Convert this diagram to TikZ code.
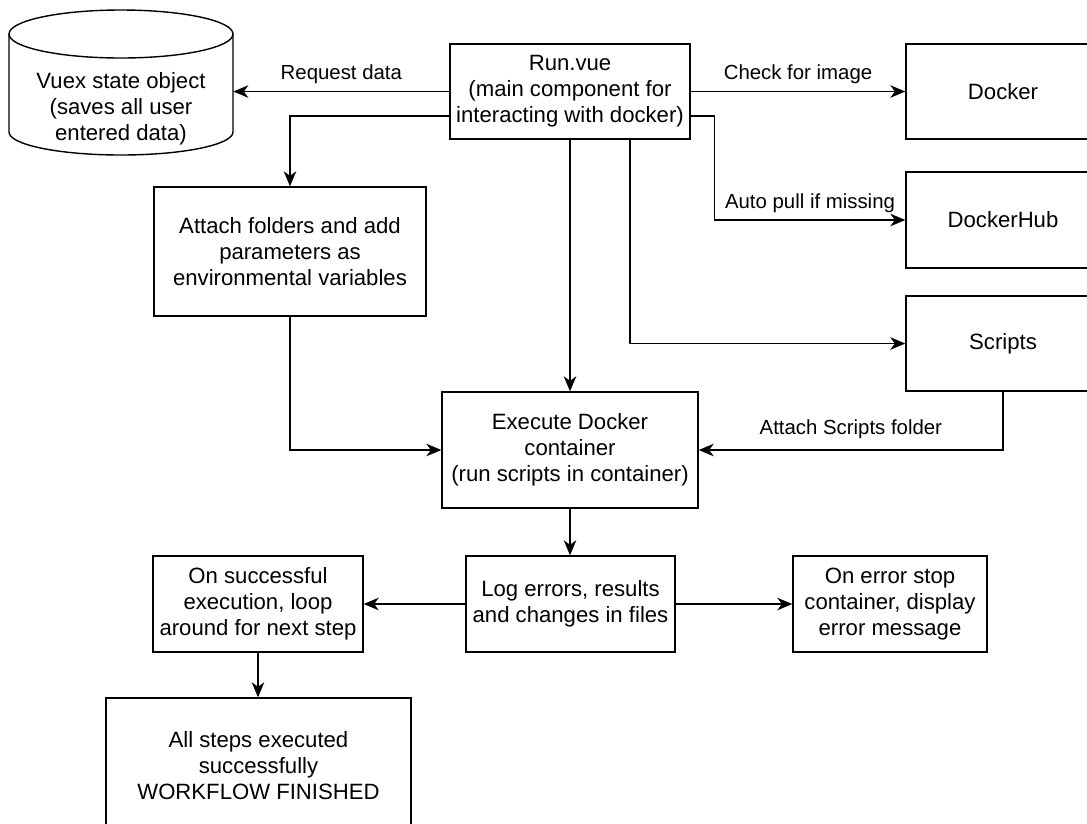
\documentclass[tikz,border=0pt]{standalone}
\usepackage{fontspec}
\setmainfont{Liberation Sans}
\usetikzlibrary{arrows.meta, positioning, calc}

\tikzset{
    box/.style={rectangle, draw, line width=0.8pt, align=center, inner sep=2pt, font=\fontsize{12.6}{14.8}\selectfont},
    lbl/.style={font=\fontsize{11.6}{13.5}\selectfont, inner sep=1pt},
    flow/.style={-{Stealth[length=3mm, width=2.5mm, inset=0.9mm]}, line width=0.8pt}
}

\begin{document}
\begin{tikzpicture}[x=0.02cm, y=-0.02cm]
    \useasboundingbox (0,0) rectangle (1087,823);
    \clip (0,0) rectangle (1087,823);

% State store
\node[align=center, minimum width=4.48cm, minimum height=2.9cm, font=\fontsize{12.6}{14.8}\selectfont] (vuex) at (121,109) {Vuex state object\\(saves all user\\entered data)};
\draw[line width=0.8pt] (121,34) ellipse [x radius=112, y radius=24];
\draw[line width=0.8pt] (9,34) -- (9,132) arc[start angle=180, end angle=0, x radius=112, y radius=23] -- (233,34);

% Main component and docker side
\node[box, minimum width=4.8cm, minimum height=1.9cm] (run) at (570,91.5) {Run.vue\\(main component for\\interacting with docker)};
\node[box, minimum width=3.88cm, minimum height=1.9cm] (docker) at (1003,91.5) {Docker};
\node[box, minimum width=3.88cm, minimum height=1.92cm] (hub) at (1003,220) {DockerHub};
\node[box, minimum width=3.88cm, minimum height=1.9cm] (scripts) at (1003,343.5) {Scripts};

% Preparation and execution
\node[box, minimum width=5.44cm, minimum height=2.58cm] (attach) at (290,251.5) {Attach folders and add\\parameters as\\environmental variables};
\node[box, minimum width=5.12cm, minimum height=2.32cm] (exec) at (570,450) {Execute Docker\\container\\(run scripts in container)};

% Results
\node[box, minimum width=4.18cm, minimum height=1.92cm] (log) at (570.5,604) {Log errors, results\\and changes in files};
\node[box, minimum width=4.2cm, minimum height=1.92cm] (success) at (258,604) {On successful\\execution, loop\\around for next step};
\node[box, minimum width=3.88cm, minimum height=1.92cm] (error) at (890,604) {On error stop\\container, display\\error message};
\node[box, minimum width=6.1cm, minimum height=2.72cm] (finished) at (258.5,766) {All steps executed\\successfully\\WORKFLOW FINISHED};

% Connections from Run.vue
\draw[flow] (run.west) -- node[lbl, above=3pt] {Request data} (run.west -| vuex.east);
\draw[flow] ([yshift=-0.49cm]run.west) -| (attach.north);
\draw[flow] (run.east) -- node[lbl, above=3pt] {Check for image} (docker.west);
\draw[flow] ([yshift=-0.49cm]run.east) -- ++(24,0) |- node[lbl, above=3pt, pos=0.75] {Auto pull if missing} (hub.west);
\draw[flow] ([xshift=1.2cm]run.south) |- (scripts.west);
\draw[flow] (run.south) -- (exec.north);

% Into the container
\draw[flow] (attach.south) |- (exec.west);
\draw[flow] (scripts.south) |- node[lbl, above=5pt, pos=0.75] {Attach Scripts folder} (exec.east);

% After execution
\draw[flow] (exec.south) -- (exec.south |- log.north);
\draw[flow] (log.west) -- (success.east);
\draw[flow] (log.east) -- (error.west);
\draw[flow] (success.south) -- (success.south |- finished.north);

\end{tikzpicture}
\end{document}
